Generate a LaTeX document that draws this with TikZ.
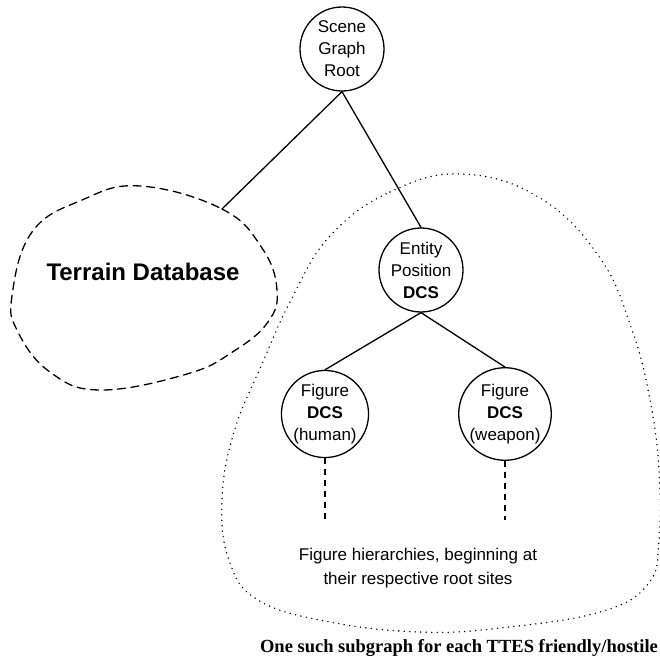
\documentclass[tikz,border=0pt]{standalone}
\usepackage{fontspec}
\setmainfont{Liberation Serif}
\setsansfont{Liberation Sans}
\begin{document}
\begin{tikzpicture}[x=1pt,y=-1pt,line join=round,line cap=round,
	dcs/.style={draw,circle,minimum size=84pt,inner sep=0pt,align=center,line width=1.3pt,font=\sffamily\fontsize{17}{22}\selectfont},
	link/.style={line width=1.3pt},
	dashblob/.style={line width=1.3pt,dash pattern=on 8pt off 5.5pt},
	dotblob/.style={line width=1.6pt,dash pattern=on 0pt off 5.5pt}]
	\useasboundingbox (0,0) rectangle (660,669);
	%nodes
	\node[dcs] (root) at (342,49) {Scene\\Graph\\Root};
	\node[dcs] (ent) at (421,270) {Entity\\Position\\\textbf{DCS}};
	\node[dcs] (hum) at (325,414) {Figure\\\textbf{DCS}\\(human)};
	\node[dcs] (wpn) at (505,414) {Figure\\\textbf{DCS}\\(weapon)};
	\coordinate (tdb) at (222,209);
	\coordinate (hend) at (325,520);
	\coordinate (wend) at (505,520);
	%blobs
	\draw[dashblob] plot[smooth cycle,tension=0.7] coordinates {(140,186) (222,209) (262,248) (277,290) (268,322) (234,351) (187,374) (100,390) (50,372) (18,332) (12,296) (32,232) (82,200)};
	\node[font=\sffamily\bfseries\fontsize{24}{28}\selectfont] (terrain) at (143,272) {Terrain Database};
	\draw[dotblob] plot[smooth cycle,tension=0.7] coordinates {(330,236) (390,192) (462,174) (540,198) (600,258) (632,330) (650,400) (659,470) (659,540) (648,584) (600,612) (500,628) (420,632) (330,622) (258,600) (229,560) (222,500) (234,432) (262,364) (292,298)};
	%links
	\draw[link] (root.south) -- (tdb);
	\draw[link] (root.south) -- (ent.north);
	\foreach \f in {hum,wpn}
		\draw[link] (ent.south) -- (\f.north);
	\foreach \f/\e in {hum/hend,wpn/wend}
		\draw[line width=1.3pt,dash pattern=on 6pt off 5pt,line cap=butt] (\f.south) -- (\e);
	%texts
	\node[align=center,font=\sffamily\fontsize{17}{24}\selectfont] (hier) at (418,568) {Figure hierarchies, beginning at\\their respective root sites};
	\node[font=\bfseries\fontsize{18.5}{22}\selectfont] (note) at (459,648) {One such subgraph for each TTES friendly/hostile};
\end{tikzpicture}
\end{document}
